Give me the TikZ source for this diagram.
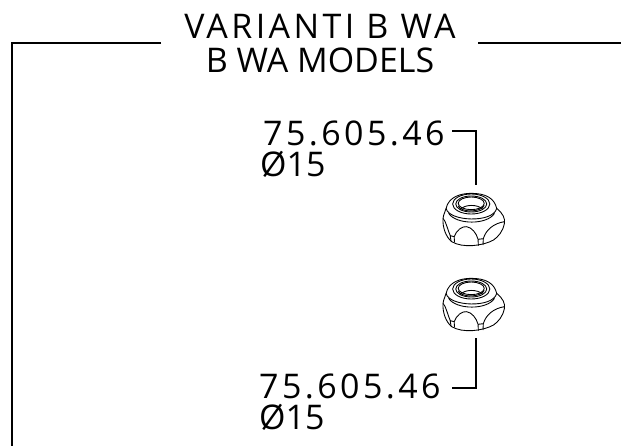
\documentclass[tikz,border=0pt]{standalone}
\usepackage{fontspec}
\newfontfamily\cadfont[LetterSpace=10]{Open Sans}
\newfontfamily\cadnarrow{Open Sans}
\tikzset{every node/.style={align=left, inner sep=0pt}}
\tikzset{line/.style={line width=1.1pt, black}}
\tikzset{nutline/.style={line width=0.75pt, black}}
\tikzset{label/.style={font=\cadfont\fontsize{29}{29}\selectfont, anchor=base west}}
\tikzset{dia/.style={font=\cadnarrow\fontsize{29}{29}\selectfont, anchor=base west}}
\tikzset{title/.style={font=\cadfont\fontsize{29}{29}\selectfont, anchor=base}}
\tikzset{subtitle/.style={font=\cadnarrow\fontsize{29}{29}\selectfont, anchor=base}}
\tikzset{nut/.pic={
	% Outer body
	\draw[nutline] (52,85) .. controls (60,50) and (100,40) .. (133,40) .. controls (180,40) and (208,55) .. (215,85) .. controls (235,100) and (243,115) .. (240,130) .. controls (235,155) and (220,170) .. (205,180) .. controls (170,198) and (105,205) .. (70,185) .. controls (50,170) and (40,140) .. (42,115) .. controls (44,100) and (50,95) .. (52,85) -- cycle;
	% Top ring
	\draw[nutline] (133,72) ellipse (60 and 30);
	\draw[nutline] (133,72) ellipse (50 and 24);
	\draw[nutline] (133,70) ellipse (42 and 19);
	\draw[nutline] (91,78) .. controls (100,98) and (165,98) .. (175,76);
	\draw[nutline] (96,90) .. controls (110,72) and (155,72) .. (170,88);
	% Lower edge of the top
	\draw[nutline] (52,85) .. controls (60,125) and (205,130) .. (215,85);
	\draw[nutline] (60,100) .. controls (85,135) and (185,135) .. (208,100);
	% Grips
	\draw[nutline] (78,170) .. controls (85,150) and (105,138) .. (118,140) .. controls (135,142) and (150,160) .. (155,178);
	\draw[nutline] (172,176) .. controls (180,150) and (205,130) .. (240,125);
	\draw[nutline] (42,115) .. controls (52,125) and (55,145) .. (66,168);
	% Small blocks
	\draw[nutline] (65,167) -- (78,170) -- (79,187) (65,167) -- (68,184);
	\draw[nutline] (155,178) -- (172,176) -- (171,195) (155,178) -- (156,197);
}}

\begin{document}
\begin{tikzpicture}[x=0.03cm, y=-0.03cm]
	\useasboundingbox (0,0) rectangle (621,446);

	% Coordinates
	\coordinate (corner) at (12,43);
	\coordinate (framebottom) at (12,446);
	\coordinate (gapleft) at (161,43);
	\coordinate (gapright) at (478,43);
	\coordinate (frameright) at (621,43);
	\coordinate (topstart) at (452,131);
	\coordinate (topbend) at (476,131);
	\coordinate (topend) at (476,185);
	\coordinate (lowstart) at (452,388);
	\coordinate (lowbend) at (476,388);
	\coordinate (lowend) at (476,338);

	% Frame
	\draw[line] (gapleft) -- (corner) -- (framebottom);
	\draw[line] (gapright) -- (frameright);

	% Titles
	\node[title] (titleit) at (320,38) {VARIANTI B WA};
	\node[subtitle] (titleen) at (320,72) {B WA MODELS};

	% Labels
	\node[label] (codetop) at (263,145) {75.605.46};
	\node[dia] (diatop) at (260,176) {Ø15};
	\node[label] (codelow) at (259,398) {75.605.46};
	\node[dia] (dialow) at (259,429) {Ø15};

	% Leaders
	\draw[line] (topstart) -- (topbend) -- (topend);
	\draw[line] (lowstart) -- (lowbend) -- (lowend);

	% Nuts
	\pic[xscale=0.31, yscale=1/3] at (430,180) {nut};
	\pic[xscale=0.31, yscale=1/3] at (430,265) {nut};
\end{tikzpicture}
\end{document}
